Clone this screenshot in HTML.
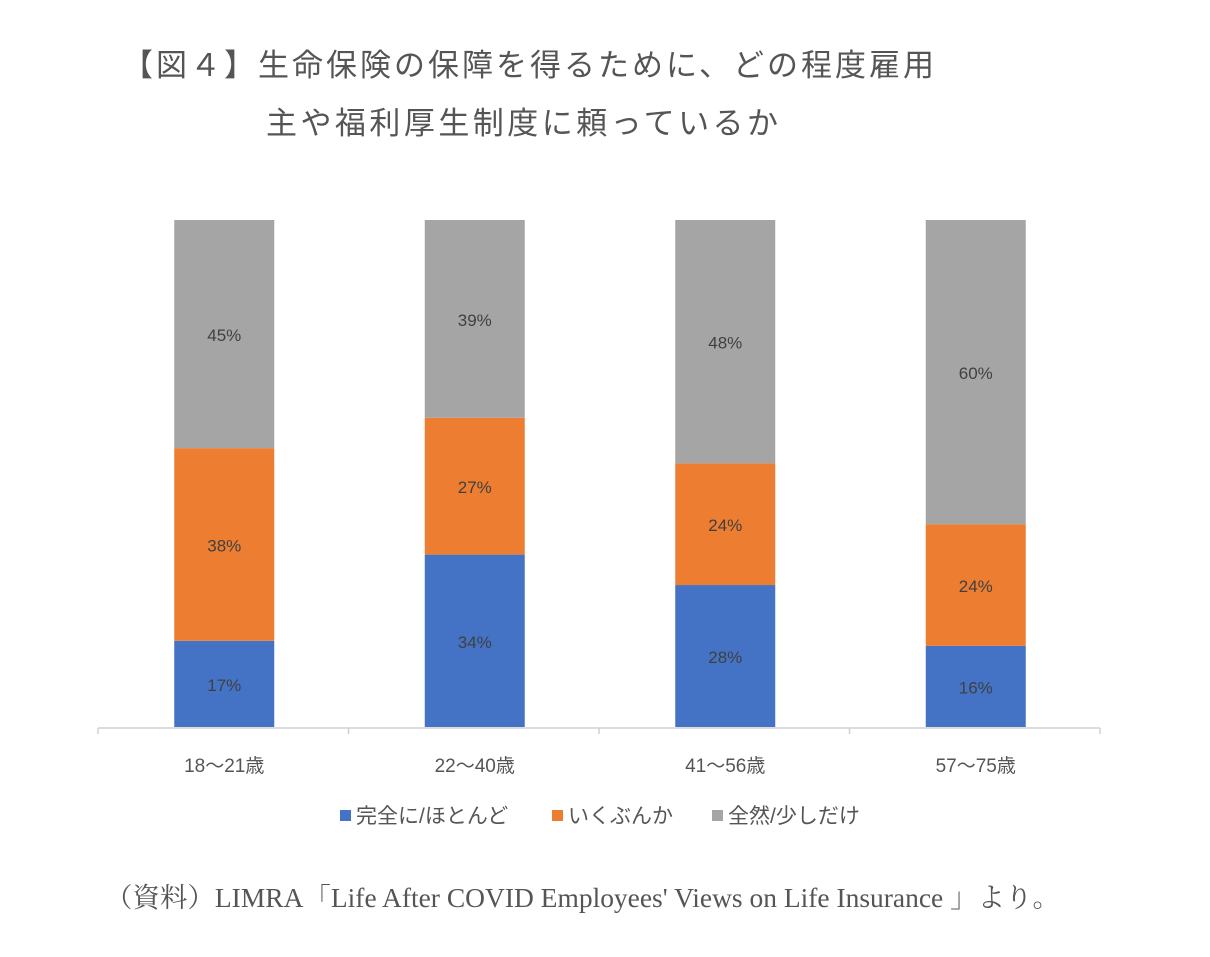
<!DOCTYPE html>
<html><head><meta charset="utf-8"><style>
body{margin:0;background:#fff;}
svg text{font-family:"Liberation Sans","Noto Sans CJK JP",sans-serif;}
</style></head><body>
<svg id="chart" width="1210" height="952" xmlns="http://www.w3.org/2000/svg">
<text x="122" y="76" font-size="31" fill="#555" textLength="812">【図４】生命保険の保障を得るために、どの程度雇用</text>
<text x="266" y="134" font-size="31" fill="#555" textLength="512">主や福利厚生制度に頼っているか</text>
<g id="bars"></g>
<g id="axis"></g>
<g id="legend"></g>
<text x="105" y="907" font-size="27" fill="#555" textLength="955" lengthAdjust="spacingAndGlyphs" style="font-family:'Liberation Serif','Noto Serif CJK SC',serif">（資料）LIMRA「Life After COVID Employees' Views on Life Insurance 」より。</text>
</svg>
<script>
const categories=["18～21歳","22～40歳","41～56歳","57～75歳"];
const seriesNames=["完全に/ほとんど","いくぶんか","全然/少しだけ"];
const fully=[17,34,28,16];
const somewhat=[38,27,24,24];
const notAtAll=[45,39,48,60];
const seriesValues=[fully,somewhat,notAtAll];
const colors=["#4472c4","#ed7d31","#a5a5a5"];
const NS="http://www.w3.org/2000/svg";
const x0=98,x1=1100,yBase=727,yTop=220,barW=100;
const band=(x1-x0)/categories.length;
const xC=i=>x0+band*(i+0.5)+1;
const yS=v=>yBase-(yBase-yTop)*v/100;
function mk(tag,attrs,parent){const e=document.createElementNS(NS,tag);for(const k in attrs)e.setAttribute(k,attrs[k]);parent.appendChild(e);return e;}
const bars=document.getElementById('bars');
categories.forEach((c,i)=>{
  let cum=0;
  seriesValues.forEach((s,j)=>{
    const v=s[i];const yb=yS(cum),yt=yS(cum+v);
    const r=mk('rect',{x:xC(i)-barW/2,y:yt,width:barW,height:yb-yt,fill:colors[j]},bars);
    
    
    const t=mk('text',{x:xC(i),y:(yt+yb)/2+7,'text-anchor':'middle','font-size':17,fill:'#404040'},bars);
    t.textContent=v+'%';
    
    
    cum+=v;
  });
});
const axis=document.getElementById('axis');
const ln=mk('line',{x1:x0,x2:x1,y1:yBase+1,y2:yBase+1,stroke:'#d0d0d0','stroke-width':1.5},axis);


for(let i=0;i<=categories.length;i++){
  const tk=mk('line',{x1:x0+band*i,x2:x0+band*i,y1:yBase+1,y2:yBase+7,stroke:'#d0d0d0','stroke-width':1.5},axis);
  
  
}
categories.forEach((c,i)=>{
  const t=mk('text',{x:xC(i),y:772,'text-anchor':'middle','font-size':19,fill:'#555'},axis);
  t.textContent=c;
  
  
});
const legend=document.getElementById('legend');
const lx=[340,552,712];
seriesNames.forEach((n,j)=>{
  const r=mk('rect',{x:lx[j],y:810,width:11,height:11,fill:colors[j]},legend);
  
  
  const t=mk('text',{x:lx[j]+16,y:823,'font-size':21,fill:'#555'},legend);
  t.textContent=n;
  
  
});
</script>
</body></html>
